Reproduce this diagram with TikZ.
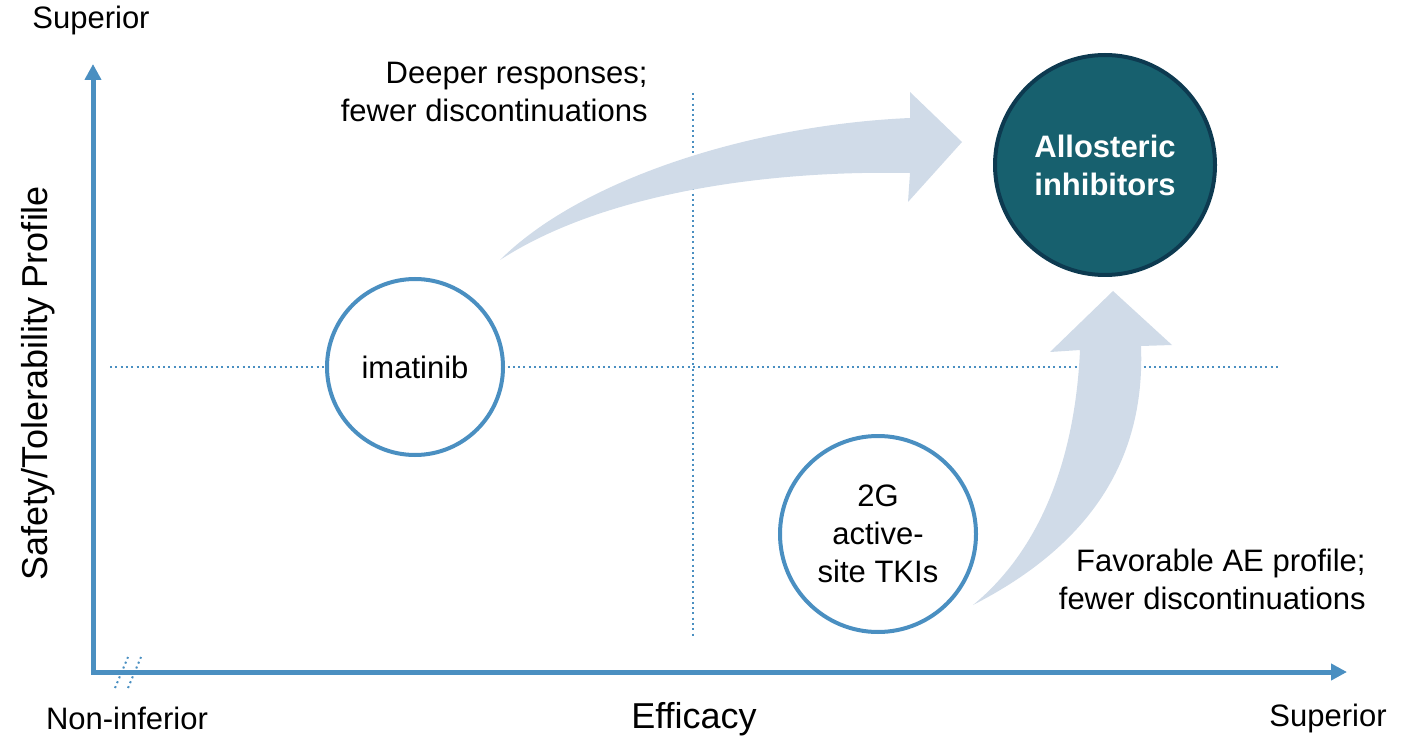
\documentclass[tikz,border=0pt]{standalone}
\usepackage{fontspec}
\setmainfont{Liberation Sans}
\usetikzlibrary{arrows.meta}
\definecolor{axisBlue}{HTML}{4A8FC1}
\definecolor{arrowFill}{HTML}{D0DBE8}
\definecolor{alloFill}{HTML}{17606E}
\definecolor{alloEdge}{HTML}{0D3A50}
\newcommand{\FigBody}{\fontsize{15.5}{19}\selectfont}
\newcommand{\FigAxis}{\fontsize{18}{21}\selectfont}

\begin{document}
\begin{tikzpicture}[
  x=0.5pt, y=-0.5pt,
  font=\FigBody,
  axis/.style  = {draw=axisBlue, line width=2.5pt,
                  {Triangle[width=8pt,length=8pt]}-{Triangle[width=8pt,length=8pt]}},
  guide/.style = {draw=axisBlue, line width=1pt, dash pattern=on 1pt off 1.65pt},
  drug/.style  = {circle, draw=axisBlue, fill=white, line width=2pt, align=center,
                  inner sep=0pt},
  lead/.style  = {circle, draw=alloEdge, fill=alloFill, line width=2pt, align=center,
                  inner sep=0pt, text=white, font=\FigBody\bfseries},
  note/.style  = {inner sep=0pt, align=right},
  gain/.style  = {fill=arrowFill, draw=none},
]
\useasboundingbox (0,0) rectangle (1412,737);

% ---------------------------------------------------------------- quadrant guides
\draw[guide] (110,367) -- (1278,367);
\draw[guide] (693,93) -- (693,637);

% ---------------------------------------------------------------- axes
\draw[guide] (115,688) -- (128,657);
\draw[guide] (128,688) -- (141,657);
\draw[axis] (93,64) -- (93,672) -- (1347,672);

\node[inner sep=0pt] (ytop)  at (91,20)   {Superior};
\node[inner sep=0pt] (xlow)  at (127,718) {Non-inferior};
\node[inner sep=0pt] (xtop)  at (1328,718) {Superior};
\node[inner sep=0pt, font=\FigAxis] (xlab) at (694,719) {Efficacy};
\node[inner sep=0pt, font=\FigAxis, rotate=90] (ylab) at (38,383)
  {Safety/Tolerability Profile};

% ---------------------------------------------------------------- gain arrows
\fill[gain] (500,260) .. controls (580,180) and (750,125) .. (910,118)
  -- (910,92) -- (962,142) -- (908,202) -- (910,173)
  .. controls (760,170) and (600,195) .. (500,260) -- cycle;
\fill[gain] (973,605) .. controls (1100,540) and (1145,450) .. (1141,346)
  -- (1172,345) -- (1113,291) -- (1050,352) -- (1080,350)
  .. controls (1075,460) and (1040,550) .. (973,605) -- cycle;

% ---------------------------------------------------------------- drug classes
\node[drug, minimum size=88pt]  (ima)  at (415,367)  {imatinib};
\node[drug, minimum size=98pt]  (tki)  at (878,534)  {2G\\active-\\site TKIs};
\node[lead, minimum size=110pt] (allo) at (1105,165) {Allosteric\\inhibitors};

% ---------------------------------------------------------------- gain notes
\node[note, anchor=east] (deep) at (648,92)   {Deeper responses;\\fewer discontinuations};
\node[note, anchor=east] (fav)  at (1366,579) {Favorable AE profile;\\fewer discontinuations};

\end{tikzpicture}
\end{document}
